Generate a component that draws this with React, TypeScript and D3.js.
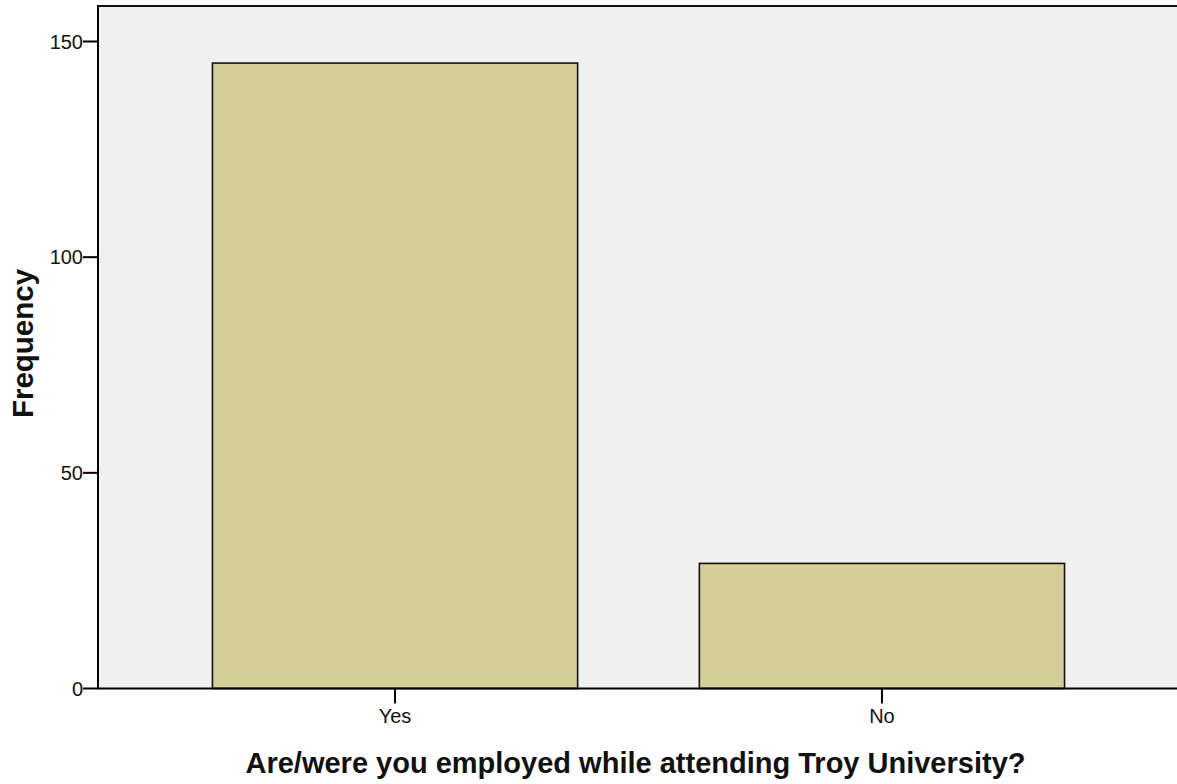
import React from "react";
import * as d3 from "d3";

const categories = ["Yes", "No"];
const frequencies = [145, 29];
const yTicks = [0, 50, 100, 150];
const xTitle = "Are/were you employed while attending Troy University?";
const yTitle = "Frequency";

const W = 1177;
const H = 784;
const plot = { left: 98, right: 1177, top: 6, bottom: 688.5 };
const FONT = "Arial, 'Liberation Sans', Helvetica, sans-serif";

export default function App() {
  const x = d3
    .scaleBand<string>()
    .domain(categories)
    .range([99.5, 1177.5])
    .paddingInner(0.25)
    .paddingOuter(0.232);
  const y = d3
    .scaleLinear()
    .domain([0, 150])
    .range([plot.bottom, plot.bottom - 647]);

  return (
    <svg
      width={W}
      height={H}
      style={{ position: "absolute", left: 0, top: 0, background: "#fff" }}
      fontFamily={FONT}
    >
      <rect
        x={plot.left}
        y={plot.top}
        width={plot.right - plot.left}
        height={plot.bottom - plot.top}
        fill="#F0F0F0"
      />
      {categories.map((c, i) => (
        <rect
          key={c}
          x={x(c)!}
          y={y(frequencies[i])}
          width={x.bandwidth()}
          height={y(0) - y(frequencies[i])}
          fill="#D3CE97"
          stroke="#111"
          strokeWidth={1.6}
        />
      ))}
      {/* frame */}
      <line x1={plot.left} x2={plot.right} y1={plot.top} y2={plot.top} stroke="#111" strokeWidth={2} />
      <line x1={plot.left} x2={plot.left} y1={plot.top - 1} y2={plot.bottom} stroke="#000" strokeWidth={2} />
      <line x1={plot.left - 1} x2={plot.right} y1={plot.bottom} y2={plot.bottom} stroke="#000" strokeWidth={2} />
      {/* y ticks */}
      {yTicks.map((t) => (
        <g key={t}>
          <line x1={plot.left - 15} x2={plot.left} y1={y(t)} y2={y(t)} stroke="#000" strokeWidth={2} />
          <text
            x={plot.left - 15}
            y={y(t)}
            textAnchor="end"
            dominantBaseline="central"
            fontSize={20}
            fill="#111"
          >
            {t}
          </text>
        </g>
      ))}
      {/* x ticks */}
      {categories.map((c) => {
        const cx = x(c)! + x.bandwidth() / 2;
        return (
          <g key={c}>
            <line x1={cx} x2={cx} y1={plot.bottom} y2={plot.bottom + 15} stroke="#000" strokeWidth={2} />
            <text x={cx} y={723} textAnchor="middle" fontSize={20} fill="#111">
              {c}
            </text>
          </g>
        );
      })}
      <text
        x={(plot.left + plot.right) / 2 - 2}
        y={773}
        textAnchor="middle"
        fontSize={29}
        fontWeight="bold"
        fill="#111"
      >
        {xTitle}
      </text>
      <text
        transform={`translate(33, 343.5) rotate(-90)`}
        textAnchor="middle"
        fontSize={29.5}
        fontWeight="bold"
        fill="#111"
      >
        {yTitle}
      </text>
    </svg>
  );
}
